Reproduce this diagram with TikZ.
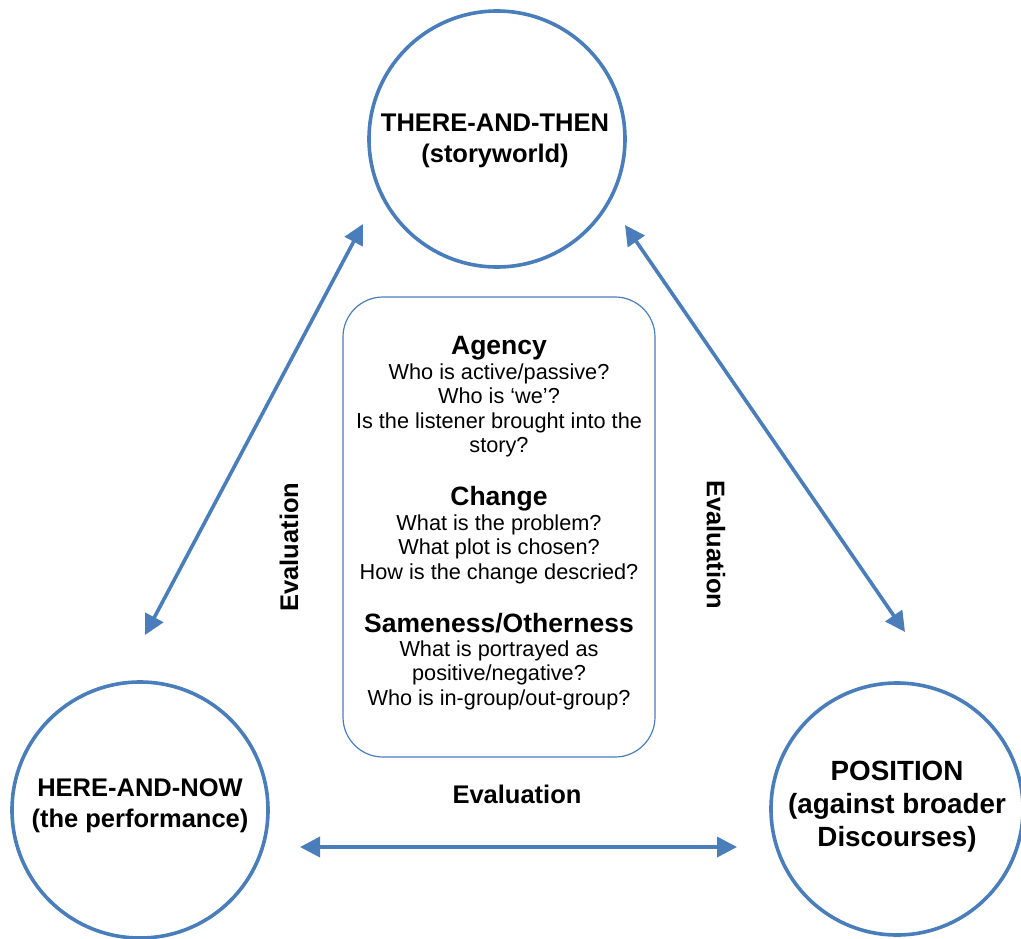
\documentclass[tikz,border=0pt]{standalone}
\usepackage{fontspec}
\setmainfont{Liberation Sans}
\usetikzlibrary{arrows.meta}
\definecolor{ringblue}{RGB}{74,126,187}
\tikzset{
  ring/.style={circle, draw=ringblue, line width=3.6pt, fill=white, inner sep=0pt, minimum size=256pt},
  ringtext/.style={align=center, font=\bfseries\fontsize{25.5}{31}\selectfont},
  link/.style={draw=ringblue, line width=3.6pt, {Triangle[length=20pt,width=20pt]}-{Triangle[length=20pt,width=20pt]}},
  evlabel/.style={font=\bfseries\fontsize{25.5}{30}\selectfont},
  qbox/.style={draw=ringblue, line width=1.2pt, rounded corners=40pt, fill=white},
  head/.style={font=\bfseries\fontsize{26.5}{30}\selectfont},
  qtext/.style={align=center, font=\fontsize{21.7}{24.5}\selectfont}
}
\begin{document}
\begin{tikzpicture}[x=1pt,y=-1pt]
\useasboundingbox (0,0) rectangle (1021,938);

% the three circles
\node[ring] (there) at (497,139) {};
\node[ring] (here) at (140,810) {};
\node[ring, minimum size=252pt] (pos) at (897,809) {};

\node[ringtext] (thereT) at (495,141) {THERE-AND-THEN\\(storyworld)};
\node[ringtext] (hereT) at (140,806) {HERE-AND-NOW\\(the performance)};
\node[ringtext, font=\bfseries\fontsize{27.8}{33}\selectfont] (posT) at (897,807) {POSITION\\(against broader\\Discourses)};

% central box of questions
\node[qbox, minimum width=312pt, minimum height=460pt] (box) at (499,527) {};

% multi-line blocks are placed by the baseline of their last line
\node[head, anchor=base] (agency) at (499,354) {Agency};
\node[qtext, anchor=base] (agencyQ) at (499,452.5) {Who is active/passive?\\Who is ‘we’?\\Is the listener brought into the\\story?};
\node[head, anchor=base] (change) at (499,505) {Change};
\node[qtext, anchor=base] (changeQ) at (499,579) {What is the problem?\\What plot is chosen?\\How is the change descried?};
\node[head, anchor=base] (same) at (499,632) {Sameness/Otherness};
\node[qtext, anchor=base] (sameQ) at (499,705) {What is portrayed as\\positive/negative?\\Who is in-group/out-group?};

% arrow end points
\coordinate (lA) at (145,635);
\coordinate (lB) at (363,224);
\coordinate (rA) at (625,225);
\coordinate (rB) at (905,632);
\coordinate (bA) at (300,847);
\coordinate (bB) at (737,847);

\draw[link] (lA) -- (lB);
\draw[link] (rA) -- (rB);
\draw[link] (bA) -- (bB);

% evaluation labels
\node[evlabel, rotate=90] (evL) at (289,547) {Evaluation};
\node[evlabel, rotate=-90] (evR) at (716,545) {Evaluation};
\node[evlabel] (evB) at (517,794) {Evaluation};
\end{tikzpicture}
\end{document}
